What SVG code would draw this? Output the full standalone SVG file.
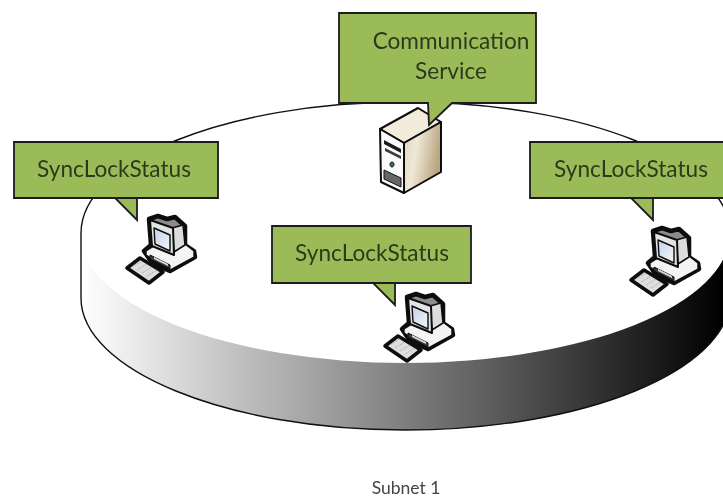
<svg xmlns="http://www.w3.org/2000/svg" width="723" height="499" viewBox="0 0 723 499">
<style>
.callout{fill:#9bbb59;stroke:#1c1c1c;stroke-width:1.8;stroke-linejoin:miter}
.label{font-family:Lato,"Open Sans","Liberation Sans",sans-serif;font-size:22.6px;fill:#2c3a1c;text-anchor:middle;filter:url(#soft)}
.ol{stroke:#0c0c0c;stroke-linejoin:round}
</style>
<defs>
<filter id="soft" x="-5%" y="-5%" width="110%" height="110%"><feGaussianBlur stdDeviation="0.45"/></filter>
<linearGradient id="side" gradientUnits="userSpaceOnUse" x1="81" y1="0" x2="723" y2="0">
<stop offset="0" stop-color="#ffffff"/><stop offset="1" stop-color="#000000"/></linearGradient>
<linearGradient id="beige" x1="0" y1="0" x2="1" y2="0.3">
<stop offset="0" stop-color="#e2d6bc"/><stop offset="0.4" stop-color="#f0e8d6"/><stop offset="1" stop-color="#b9a680"/></linearGradient>
<linearGradient id="scr" x1="0" y1="0" x2="1" y2="1">
<stop offset="0" stop-color="#c4d2e6"/><stop offset="1" stop-color="#f4f7fb"/></linearGradient>
<g id="pc" filter="url(#soft)">
<path class="ol" fill="#8c8c8c" stroke-width="4.5" d="M24 6L33 3L42 6L50 4L60 13L60 32L69 38L70 44L45 58L38 55L25 47L19 38L26 32Z"/>
<path class="ol" fill="#f4f4f4" stroke-width="1.4" d="M21 38L32 31L48 38L60 31L69 38L69 44L45 57L21 42Z"/>
<path class="ol" fill="#3a3a3a" stroke-width="1" d="M25 42L45 52L45 56L25 46Z"/>
<path fill="#dcdcdc" d="M29 44L43 51L43 53L29 46Z"/>
<path class="ol" fill="#dcdcdc" stroke-width="1.5" d="M47 15L58 12L60 32L49 39Z"/>
<path class="ol" fill="#e4e4e4" stroke-width="2" d="M25 7L48 15L49 42L27 33Z"/>
<path class="ol" fill="url(#scr)" stroke-width="1.4" d="M29 15L45 22L45 38L30 31Z"/>
<path class="ol" fill="#dedede" stroke-width="3.6" d="M2 55L15 45L38 59L24 70Z"/>
<path fill="none" stroke="#b0b0b0" stroke-width="1" stroke-dasharray="2 1" d="M7 54L17 48M12 57L22 51M17 60L27 54M22 63L32 57"/>
</g>
</defs>

<g id="disc">
<path fill="url(#side)" d="M81 233L81 298C81 370 226 430 405 430C585 430 730 370 730 298L730 233Z"/>
<ellipse cx="405" cy="233" rx="325" ry="130" fill="#ffffff" stroke="none"/>
<path fill="none" stroke="#111" stroke-width="1.4" d="M730 233C730 161 585 102 405 102C226 102 81 161 81 233L81 298C81 370 226 430 405 430C585 430 730 370 730 298L730 233"/>
</g>

<g id="server" filter="url(#soft)">
<path class="ol" fill="#f3ecdc" stroke-width="2" d="M380 129L418 108L441 122L404 143Z"/>
<path class="ol" fill="#fafafa" stroke-width="2" d="M380 129L404 143L404 193L381 182Z"/>
<path class="ol" fill="url(#beige)" stroke-width="2" d="M404 143L441 122L441 172L404 193Z"/>
<path fill="#1c1c1c" d="M384 140L401 149L401 153L384 144Z"/>
<path fill="#3a3a3a" d="M385 148L401 156L401 159L385 151Z"/>
<path fill="#2f6f6a" stroke="#111" d="M392 162a2 2.5 0 1 0 .01 0Z"/>
<path fill="#666" stroke="#111" stroke-width="1" d="M384 170L401 178L401 187L384 179Z"/>
</g>

<g id="pc-left"><use href="#pc" x="125" y="213"/></g>
<g id="pc-middle"><use href="#pc" x="383" y="291"/></g>
<g id="pc-right"><use href="#pc" x="629" y="225"/></g>

<g id="callout-service">
<path class="callout" d="M339 13H536V103H452L429 125L428 103H339Z"/>
<text class="label" x="451" y="49">Communication</text>
<text class="label" x="451" y="79">Service</text>
</g>
<g id="callout-left">
<path class="callout" d="M14 142H218V198H115L137 220V198H14Z"/>
<text class="label" x="114" y="177">SyncLockStatus</text>
</g>
<g id="callout-middle">
<path class="callout" d="M272 226H471V283H373L395 305V283H272Z"/>
<text class="label" x="372" y="261">SyncLockStatus</text>
</g>
<g id="callout-right">
<path class="callout" d="M530 142H730V198H631L653 220V198H530Z"/>
<text class="label" x="631" y="177">SyncLockStatus</text>
</g>
<text id="subnet" x="406" y="494" font-family="Lato,'Open Sans','Liberation Sans',sans-serif" font-size="17.5" fill="#444" text-anchor="middle" filter="url(#soft)">Subnet 1</text>
</svg>
